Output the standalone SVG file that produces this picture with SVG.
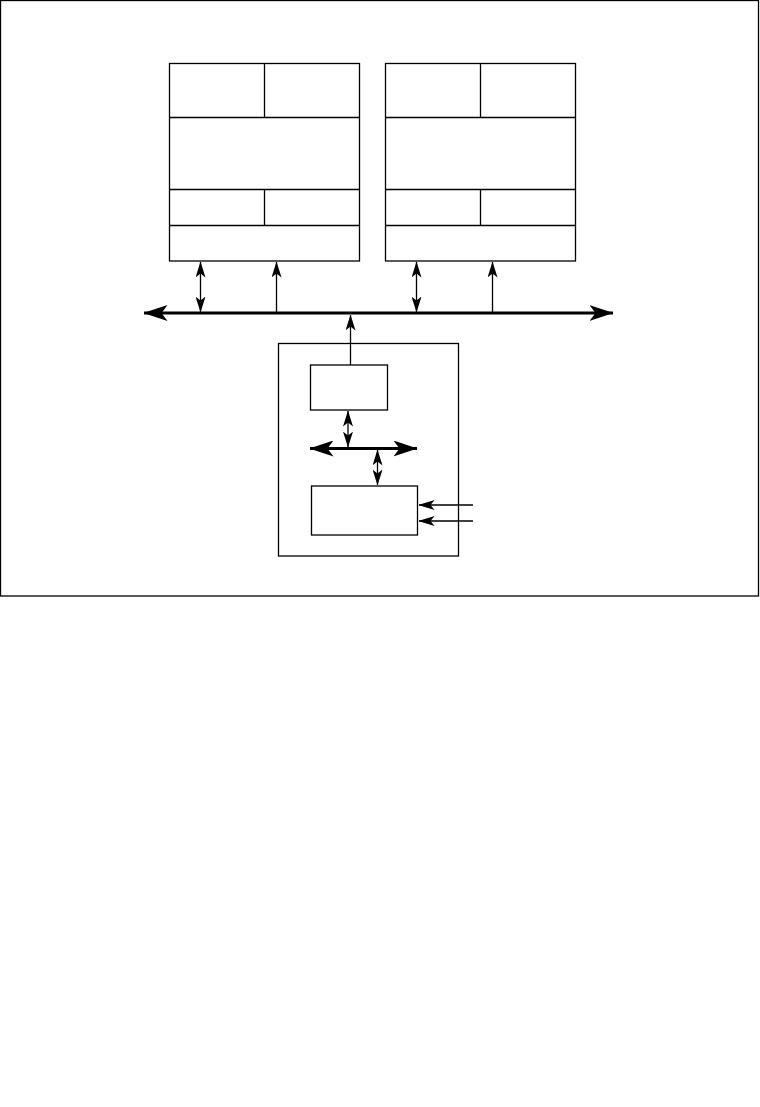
<svg xmlns="http://www.w3.org/2000/svg" width="760" height="1107" viewBox="0 0 760 1107">
<defs>
<style>
.b{fill:none;stroke:#000;stroke-width:1.3}
.l{fill:none;stroke:#000;stroke-width:1.3}
.bus{fill:none;stroke:#000;stroke-width:3}
</style>
<marker id="sa" markerUnits="userSpaceOnUse" viewBox="0 0 16 10" refX="15.5" refY="5" markerWidth="16" markerHeight="10" orient="auto-start-reverse">
<path d="M0,0 L16,5 L0,10 L4,5 Z" fill="#000"/>
</marker>
<marker id="ba" markerUnits="userSpaceOnUse" viewBox="0 0 24 16" refX="23.5" refY="8" markerWidth="24" markerHeight="16" orient="auto-start-reverse">
<path d="M0,0 L24,8 L0,16 L6,8 Z" fill="#000"/>
</marker>
</defs>
<rect width="760" height="1107" fill="#fff"/>
<rect x="0.5" y="0.5" width="758" height="595.5" class="b"/>
<g id="module-left">
<rect x="169.5" y="63.5" width="190" height="197.5" class="b"/>
<line x1="169.5" y1="117.5" x2="359.5" y2="117.5" class="b"/>
<line x1="169.5" y1="189.5" x2="359.5" y2="189.5" class="b"/>
<line x1="169.5" y1="225.5" x2="359.5" y2="225.5" class="b"/>
<line x1="264.5" y1="63.5" x2="264.5" y2="117.5" class="b"/>
<line x1="264.5" y1="189.5" x2="264.5" y2="225.5" class="b"/>
</g>
<g id="module-right">
<rect x="385.5" y="63.5" width="190" height="197.5" class="b"/>
<line x1="385.5" y1="117.5" x2="575.5" y2="117.5" class="b"/>
<line x1="385.5" y1="189.5" x2="575.5" y2="189.5" class="b"/>
<line x1="385.5" y1="225.5" x2="575.5" y2="225.5" class="b"/>
<line x1="480.5" y1="63.5" x2="480.5" y2="117.5" class="b"/>
<line x1="480.5" y1="189.5" x2="480.5" y2="225.5" class="b"/>
</g>
<g id="controller">
<rect x="278.5" y="343.5" width="180" height="212.5" class="b"/>
</g>
<g id="processor">
<rect x="310.5" y="365" width="77" height="45" class="b"/>
</g>
<g id="interface">
<rect x="311.5" y="486" width="106" height="49" class="b"/>
</g>
<g id="connectors">
<line x1="144" y1="313" x2="613" y2="313" class="bus" marker-start="url(#ba)" marker-end="url(#ba)"/>
<line x1="200.5" y1="262" x2="200.5" y2="312" class="l" marker-start="url(#sa)" marker-end="url(#sa)"/>
<line x1="276.5" y1="313" x2="276.5" y2="262" class="l" marker-end="url(#sa)"/>
<line x1="416.5" y1="262" x2="416.5" y2="312" class="l" marker-start="url(#sa)" marker-end="url(#sa)"/>
<line x1="492.5" y1="313" x2="492.5" y2="262" class="l" marker-end="url(#sa)"/>
<line x1="350.5" y1="365" x2="350.5" y2="315" class="l" marker-end="url(#sa)"/>
<line x1="310" y1="448.5" x2="417" y2="448.5" class="bus" marker-start="url(#ba)" marker-end="url(#ba)"/>
<line x1="348" y1="411" x2="348" y2="447" class="l" marker-start="url(#sa)" marker-end="url(#sa)"/>
<line x1="377.5" y1="450" x2="377.5" y2="485" class="l" marker-start="url(#sa)" marker-end="url(#sa)"/>
<line x1="473" y1="505" x2="419" y2="505" class="l" marker-end="url(#sa)"/>
<line x1="473" y1="521" x2="419" y2="521" class="l" marker-end="url(#sa)"/>
</g>
</svg>
